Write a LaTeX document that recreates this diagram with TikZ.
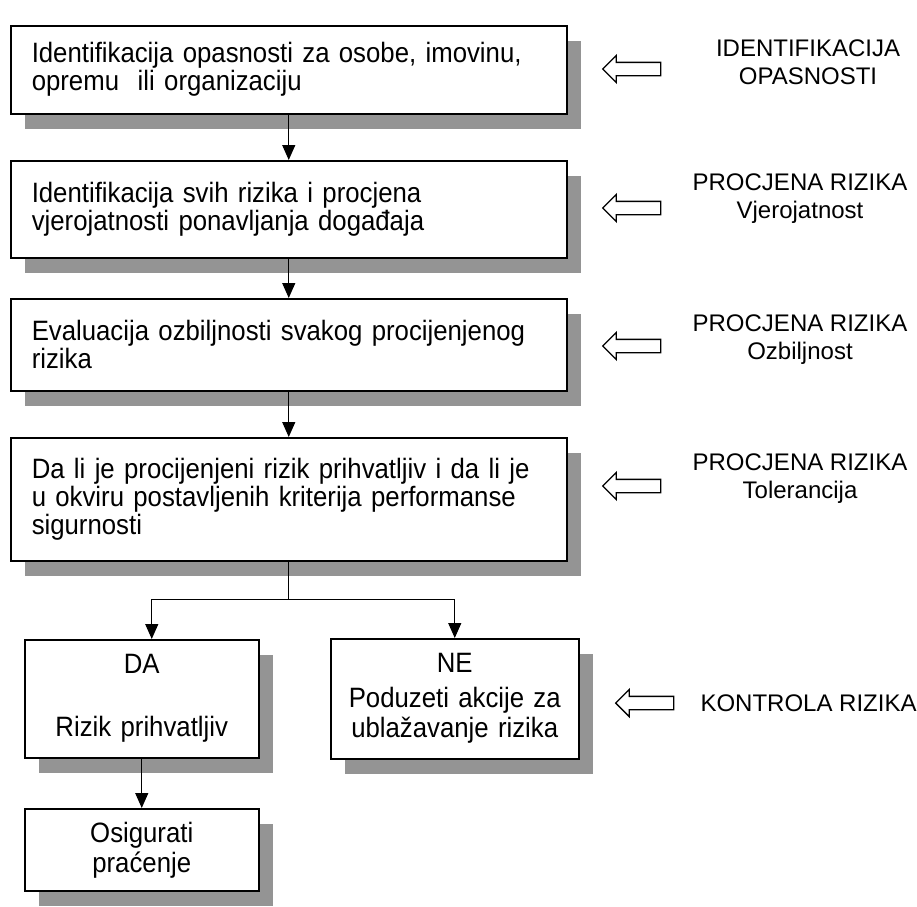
\documentclass[tikz,border=0pt]{standalone}
\usepackage{fontspec}
\setmainfont{Liberation Sans}
\newfontfamily\narrowfont[FakeStretch=0.92]{Liberation Sans}
\usetikzlibrary{shapes,shadows,arrows.meta}

\begin{document}
\begin{tikzpicture}[x=1pt,y=-1pt]
\tikzstyle{box}=[
	draw, line width=1.5pt, fill=white,
	anchor=north west, inner ysep=0pt,
	font=\narrowfont\fontsize{28}{28}\selectfont,
	drop shadow={shadow xshift=14pt, shadow yshift=-15pt, fill=black!42, opacity=1} ]
\tikzstyle{wide}=[box, text width=514pt, inner xsep=21pt, align=left]
\tikzstyle{small}=[box, inner xsep=0pt, align=center, font=\narrowfont\fontsize{28}{30}\selectfont]
\tikzstyle{holarrow}=[
	single arrow, draw, line width=1.3pt, fill=white,
	shape border rotate=180, minimum height=58pt,
	inner xsep=0pt, inner ysep=6pt, single arrow head extend=7pt ]
\tikzstyle{side}=[align=center, font=\fontsize{24}{28}\selectfont]
\tikzstyle{flow}=[line width=1.2pt, -{Triangle[length=15pt,width=13pt]}]
\useasboundingbox (0,0) rectangle (917,906);
% steps
\node[wide, minimum height=88pt] (ident) at (10,25)
	{Identifikacija opasnosti za osobe, imovinu,\\opremu\ \ ili organizaciju};
\node[wide, minimum height=97pt] (vjer) at (10,160)
	{Identifikacija svih rizika i procjena\\vjerojatnosti ponavljanja događaja};
\node[wide, minimum height=92pt] (ozb) at (10,298)
	{Evaluacija ozbiljnosti svakog procijenjenog\\rizika};
\node[wide, minimum height=123pt] (toler) at (10,437)
	{Da li je procijenjeni rizik prihvatljiv i da li je\\u okviru postavljenih kriterija performanse\\sigurnosti};
\node[small, text width=234pt, minimum height=118pt] (da) at (24,639)
	{DA\\[33pt]Rizik prihvatljiv};
\node[small, text width=248pt, minimum height=120pt] (ne) at (330,638)
	{NE\\[5pt]Poduzeti akcije za\\ublažavanje rizika};
\node[small, text width=234pt, minimum height=82pt] (prac) at (24,808)
	{Osigurati\\praćenje};
% links
\draw[flow] (ident) -- (vjer);
\draw[flow] (vjer) -- (ozb);
\draw[flow] (ozb) -- (toler);
\draw[line width=1.2pt] (toler.south) -- ++(0,38) coordinate (fork);
\draw[flow] (fork) -| ([xshift=10pt]da.north);
\draw[flow] (fork) -| (ne.north);
\draw[flow] (da) -- (prac);
% phases
\node[holarrow] (a1) at (635,69) {};
\node[holarrow] (a2) at (635,208) {};
\node[holarrow] (a3) at (635,346) {};
\node[holarrow] (a4) at (635,486) {};
\node[holarrow] (a5) at (648,703) {};
\node[side] (p1) at (808,62) {IDENTIFIKACIJA\\OPASNOSTI};
\node[side] (p2) at (800,199) {PROCJENA RIZIKA\\Vjerojatnost};
\node[side] (p3) at (800,340) {PROCJENA RIZIKA\\Ozbiljnost};
\node[side] (p4) at (800,479) {PROCJENA RIZIKA\\Tolerancija};
\node[side, anchor=west] (p5) at (697,703) {KONTROLA RIZIKA};
\end{tikzpicture}
\end{document}
